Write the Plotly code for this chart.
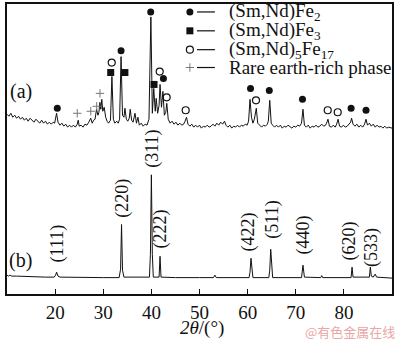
import plotly.graph_objects as go

# ---- XRD pattern (a): as-cast alloy, intensity in a.u. ----
a_2theta = [
    10.0, 10.4, 10.8, 11.2, 11.6, 12.0, 12.4, 12.8, 13.2, 13.6, 14.0, 14.4, 14.8, 15.2, 15.6,
    16.0, 16.4, 16.8, 17.2, 17.6, 18.0, 18.4, 18.8, 19.2, 19.6, 19.9, 20.3, 20.6, 21.0, 21.4,
    21.8, 22.2, 22.6, 23.0, 23.4, 23.8, 24.2, 24.6, 24.8, 25.0, 25.4, 25.8, 26.2, 26.6, 27.0,
    27.4, 27.7, 28.0, 28.3, 28.6, 28.9, 29.1, 29.3, 29.5, 29.7, 29.9, 30.2, 30.5, 30.8, 31.1,
    31.5, 31.8, 32.1, 32.4, 32.8, 33.1, 33.4, 33.7, 34.0, 34.3, 34.5, 34.8, 35.1, 35.4, 35.6,
    35.9, 36.2, 36.6, 36.9, 37.2, 37.5, 37.9, 38.3, 38.7, 39.1, 39.5, 39.9, 40.2, 40.5, 40.8,
    41.0, 41.3, 41.6, 41.8, 42.1, 42.4, 42.7, 43.0, 43.2, 43.5, 43.9, 44.3, 44.7, 45.1, 45.5,
    45.9, 46.3, 46.7, 47.0, 47.3, 47.6, 48.0, 48.4, 48.8, 49.2, 49.6, 50.0, 50.4, 50.8, 51.2,
    51.6, 52.0, 52.4, 52.8, 53.2, 53.6, 54.0, 54.4, 54.8, 55.2, 55.5, 55.9, 56.3, 56.7, 57.1,
    57.5, 57.9, 58.3, 58.7, 59.1, 59.5, 59.9, 60.2, 60.5, 60.8, 61.1, 61.4, 61.8, 62.1, 62.5,
    62.9, 63.3, 63.7, 64.1, 64.3, 64.6, 64.9, 65.2, 65.6, 66.0, 66.4, 66.8, 67.2, 67.6, 68.0,
    68.4, 68.8, 69.2, 69.6, 70.0, 70.4, 70.8, 71.2, 71.5, 71.8, 72.2, 72.6, 73.0, 73.4, 73.8,
    74.2, 74.6, 75.0, 75.4, 75.8, 76.2, 76.4, 76.7, 77.0, 77.4, 77.8, 78.2, 78.5, 78.8, 79.1,
    79.5, 79.9, 80.3, 80.7, 81.1, 81.4, 81.6, 81.9, 82.3, 82.7, 83.1, 83.5, 83.9, 84.3, 84.6,
    84.9, 85.3, 85.7, 86.1, 86.5, 86.9, 87.3, 87.7, 88.1, 88.5, 88.9, 89.3, 89.7, 90.0,
]
a_int = [
    181, 179, 182, 178, 180, 177, 179, 176, 178, 175, 177, 174, 177, 175, 173,
    176, 174, 172, 175, 172, 174, 171, 173, 171, 173, 172, 182, 173, 170, 172,
    169, 171, 168, 170, 168, 170, 168, 171, 175, 169, 170, 168, 171, 170, 173,
    177, 172, 175, 176, 186, 180, 183, 193, 186, 196, 184, 188, 178, 174, 172,
    175, 219, 176, 172, 174, 172, 176, 239, 180, 178, 187, 176, 174, 177, 186,
    175, 173, 182, 172, 178, 170, 172, 169, 171, 170, 176, 279, 182, 207, 184,
    197, 182, 190, 211, 188, 204, 180, 183, 192, 176, 172, 174, 171, 173, 170,
    172, 170, 171, 174, 178, 171, 169, 171, 168, 170, 168, 170, 167, 169, 168,
    170, 168, 169, 171, 169, 172, 170, 173, 171, 174, 170, 168, 170, 167, 169,
    168, 170, 168, 170, 169, 171, 170, 174, 196, 178, 172, 176, 187, 172, 170,
    168, 170, 169, 171, 174, 195, 172, 170, 168, 170, 168, 170, 167, 169, 168,
    170, 168, 167, 169, 168, 170, 169, 172, 186, 170, 168, 170, 167, 169, 168,
    170, 168, 169, 171, 169, 170, 172, 176, 169, 168, 170, 168, 171, 176, 169,
    168, 170, 168, 169, 171, 173, 177, 171, 169, 171, 168, 170, 168, 171, 176,
    170, 172, 169, 171, 168, 170, 168, 169, 167, 169, 167, 168, 167, 167,
]

# ---- XRD pattern (b): annealed alloy ----
b_2theta = [
    10.0, 10.3, 10.6, 11.0, 12.0, 14.0, 16.0, 18.0, 19.8, 20.1, 20.3, 20.6, 21.0, 25.0, 30.0,
    33.3, 33.6, 33.8, 34.0, 34.3, 38.0, 39.6, 39.8, 40.0, 40.2, 40.4, 41.6, 41.8, 42.0, 45.0,
    50.0, 52.9, 53.2, 53.5, 60.3, 60.5, 60.7, 60.9, 61.1, 64.4, 64.6, 64.8, 65.0, 65.2, 71.2,
    71.5, 71.8, 75.2, 75.4, 75.6, 81.5, 81.7, 81.9, 85.3, 85.5, 85.7, 86.1, 86.5, 86.8, 90.0,
]
b_int = [
    19, 18, 19, 18, 18, 17.5, 17, 17, 17, 19, 22, 18, 17, 16.5, 16.5,
    16.5, 25, 70, 24, 17, 16.5, 17, 40, 120, 40, 17, 17, 38, 17, 16.5,
    16.5, 16.5, 19, 16.5, 16.5, 22, 36, 22, 16.5, 16.5, 24, 45, 24, 16.5, 16.5,
    29, 17, 16.5, 18.5, 16.5, 16.5, 27, 17, 17, 27, 18, 17, 20, 17, 16,
]

# ---- Miller indices of the (b) reflections and their label anchors ----
hkl_labels = ["(111)", "(220)", "(311)", "(222)", "(422)", "(511)", "(440)", "(620)", "(533)"]
hkl_x = [20.4, 34.1, 40.1, 41.8, 60.1, 65.1, 71.5, 81.1, 85.8]
hkl_y = [51, 97, 146, 65, 62, 75, 60, 53, 47]

# ---- Phase identification marks on pattern (a) ----
fe2_x = [20.45, 33.7, 39.86, 42.5, 60.6, 64.5, 71.4, 81.5, 84.6]
fe2_y = [187, 245, 284, 217, 207, 205, 196, 187, 185]
fe3_x = [31.55, 34.5, 40.55]
fe3_y = [223, 223, 211]
fe17_x = [31.76, 41.73, 43.18, 47.13, 61.74, 76.64, 78.72]
fe17_y = [233, 224, 198, 185, 195, 185, 183]
re_x = [24.6, 27.4, 28.64, 29.32]
re_y = [182, 184, 189, 202]

phase_names = [
    "(Sm,Nd)Fe<sub>2</sub>",
    "(Sm,Nd)Fe<sub>3</sub>",
    "(Sm,Nd)<sub>5</sub>Fe<sub>17</sub>",
    "Rare earth-rich phase",
]

SERIF = "Liberation Serif"
BLACK = "#111111"

fig = go.Figure()

fig.add_trace(go.Scatter(x=a_2theta, y=a_int, mode="lines",
                         line=dict(color=BLACK, width=1), hoverinfo="skip"))
fig.add_trace(go.Scatter(x=b_2theta, y=b_int, mode="lines",
                         line=dict(color=BLACK, width=1), hoverinfo="skip"))

phase_styles = [
    dict(symbol="circle", size=7, color=BLACK),
    dict(symbol="square", size=7, color=BLACK),
    dict(symbol="circle-open", size=7, color=BLACK, line=dict(width=1.2, color=BLACK)),
    dict(symbol="cross-thin", size=6, color="#777777", line=dict(width=1, color="#777777")),
]
for (px, py), st in zip([(fe2_x, fe2_y), (fe3_x, fe3_y), (fe17_x, fe17_y), (re_x, re_y)],
                        phase_styles):
    fig.add_trace(go.Scatter(x=px, y=py, mode="markers", marker=st, hoverinfo="skip"))

# legend block drawn on an overlay axis spanning the plot area in [0, 1]
leg_rows = [0.9726, 0.9075, 0.8425, 0.781]
for yy, st in zip(leg_rows, phase_styles):
    fig.add_trace(go.Scatter(x=[0.475], y=[yy], mode="markers", marker=st,
                             xaxis="x2", yaxis="y2", hoverinfo="skip"))
    fig.add_trace(go.Scatter(x=[0.4935, 0.540], y=[yy, yy], mode="lines",
                             line=dict(color=BLACK, width=1.2),
                             xaxis="x2", yaxis="y2", hoverinfo="skip"))

annotations = []
for name, yy in zip(phase_names, leg_rows):
    annotations.append(dict(xref="x2", yref="y2", x=0.571, y=yy, text=name, showarrow=False,
                            xanchor="left", yanchor="middle",
                            font=dict(family=SERIF, size=19, color=BLACK)))

for t, xx, yy in zip(hkl_labels, hkl_x, hkl_y):
    annotations.append(dict(x=xx, y=yy, text=t, textangle=-90, showarrow=False,
                            xanchor="center", yanchor="middle",
                            font=dict(family=SERIF, size=18, color=BLACK)))

for t, yy in [("(a)", 204), ("(b)", 34)]:
    annotations.append(dict(x=12.9, y=yy, text=t, showarrow=False,
                            font=dict(family=SERIF, size=20, color=BLACK)))

annotations.append(dict(xref="paper", yref="paper", x=0.506, y=-0.118,
                        text="<i>2θ</i>/(°)", showarrow=False,
                        xanchor="center", yanchor="middle",
                        font=dict(family=SERIF, size=19, color=BLACK)))
annotations.append(dict(xref="paper", yref="paper", x=0.891, y=-0.13,
                        text="@有色金属在线", showarrow=False,
                        xanchor="center", yanchor="middle",
                        font=dict(family="Noto Sans CJK SC", size=13, color="#eaa6a6")))

fig.update_layout(
    width=400, height=340,
    margin=dict(l=7, r=8, t=2, b=46),
    paper_bgcolor="white", plot_bgcolor="white",
    showlegend=False,
    annotations=annotations,
    xaxis=dict(range=[10, 90], tickvals=[10, 20, 30, 40, 50, 60, 70, 80, 90],
               ticks="inside", ticklen=5, tickwidth=1.2, tickcolor=BLACK,
               showline=True, linewidth=1.5, linecolor=BLACK, mirror=True,
               showgrid=False, zeroline=False,
               tickfont=dict(family=SERIF, size=19, color=BLACK)),
    yaxis=dict(range=[0, 292], showticklabels=False, ticks="",
               showline=True, linewidth=1.5, linecolor=BLACK, mirror=True,
               showgrid=False, zeroline=False),
    xaxis2=dict(range=[0, 1], overlaying="x", visible=False),
    yaxis2=dict(range=[0, 1], overlaying="y", visible=False),
)

fig.write_html("out.html")
